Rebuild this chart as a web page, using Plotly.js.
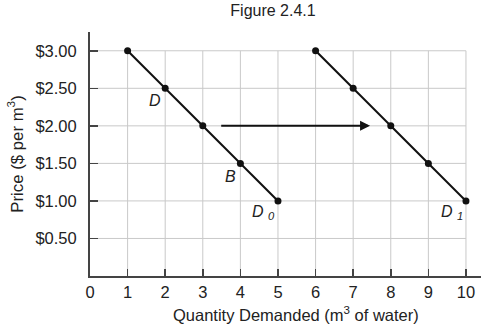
<!DOCTYPE html>
<html>
<head>
<meta charset="utf-8">
<script src="https://cdn.plot.ly/plotly-3.0.1.min.js"></script>
<style>html,body{margin:0;padding:0;background:#fff;}#chart{width:486px;height:328px;}</style>
</head>
<body>
<div id="chart"></div>
<script>
// Data
const quantityD0 = [1, 2, 3, 4, 5];
const quantityD1 = [6, 7, 8, 9, 10];
const prices = [3.00, 2.50, 2.00, 1.50, 1.00];
const xTicks = [0, 1, 2, 3, 4, 5, 6, 7, 8, 9, 10];
const yTicks = [0.5, 1.0, 1.5, 2.0, 2.5, 3.0];
const yTickLabels = ["$0.50", "$1.00", "$1.50", "$2.00", "$2.50", "$3.00"];
const pointLabels = [
  {text: "<i>D</i>", x: 1.74, y: 2.34},
  {text: "<i>B</i>", x: 3.73, y: 1.33},
  {text: "<i>D <sub>0</sub></i>", x: 4.62, y: 0.84},
  {text: "<i>D <sub>1</sub></i>", x: 9.62, y: 0.84}
];
const arrowFrom = [3.45, 2.0];
const arrowTo = [7.45, 2.0];
const xTitle = "Quantity Demanded (m<sup>3</sup> of water)";
const yTitle = "Price ($ per m<sup>3</sup>)";

const FONT = "Liberation Sans, Arial, Helvetica, sans-serif";
const TXT = "#222";

const lineStyle = {color: "#111", width: 2};
const markerStyle = {color: "#111", size: 7};

const traces = [
  {x: quantityD0, y: prices, mode: "lines+markers", line: lineStyle, marker: markerStyle, hoverinfo: "x+y", showlegend: false},
  {x: quantityD1, y: prices, mode: "lines+markers", line: lineStyle, marker: markerStyle, hoverinfo: "x+y", showlegend: false}
];

const gridColor = "#c9c9c9";
const xMaxGrid = xTicks[xTicks.length - 1];
const yMaxGrid = yTicks[yTicks.length - 1];
const shapes = [];
xTicks.filter(v => v > 0).forEach(v => shapes.push({type: "line", xref: "x", yref: "y", x0: v, x1: v, y0: 0, y1: yMaxGrid, line: {color: gridColor, width: 1}, layer: "below"}));
yTicks.forEach(v => shapes.push({type: "line", xref: "x", yref: "y", x0: 0, x1: xMaxGrid, y0: v, y1: v, line: {color: gridColor, width: 1}, layer: "below"}));

const annotations = pointLabels.map(p => ({
  x: p.x, y: p.y, xref: "x", yref: "y", text: p.text, showarrow: false,
  font: {family: FONT, size: 16, color: TXT}
}));
annotations.push({
  x: arrowTo[0], y: arrowTo[1], ax: arrowFrom[0], ay: arrowFrom[1],
  xref: "x", yref: "y", axref: "x", ayref: "y",
  text: "", showarrow: true, arrowhead: 2, arrowsize: 1, arrowwidth: 2, arrowcolor: "#111", standoff: 0
});
// x-axis title placed as annotation (offset right of plot centre as in the reference)
const plotLeft = 90, plotRight = 486 - 5, plotTop = 32, plotBottom = 328 - 52;
const pxToPaperX = px => (px - plotLeft) / (plotRight - plotLeft);
annotations.push({
  x: pxToPaperX(296), xref: "paper", xanchor: "center",
  y: -(314 - plotBottom) / (plotBottom - plotTop), yref: "paper", yanchor: "middle",
  text: xTitle, showarrow: false, font: {family: FONT, size: 16.5, color: TXT}
});

const layout = {
  width: 486, height: 328,
  margin: {l: plotLeft, r: 5, t: plotTop, b: 52, pad: 0},
  paper_bgcolor: "#fff", plot_bgcolor: "#fff",
  font: {family: FONT, size: 16, color: TXT},
  title: {text: "Figure 2.4.1", xref: "paper", x: pxToPaperX(273), xanchor: "center", yref: "container", y: 0.968, yanchor: "middle", font: {family: FONT, size: 16, color: TXT}},
  xaxis: {
    range: [0, 10.4], tickmode: "array", tickvals: xTicks, ticktext: xTicks.map(String),
    showgrid: false, zeroline: false, showline: true, linecolor: "#444", linewidth: 2,
    ticks: "inside", ticklen: 7, tickwidth: 1.5, tickcolor: "#444",
    tickfont: {family: FONT, size: 16.5, color: TXT}, ticklabelstandoff: 0
  },
  yaxis: {
    range: [0, 3.25], tickmode: "array", tickvals: yTicks, ticktext: yTickLabels,
    showgrid: false, zeroline: false, showline: true, linecolor: "#444", linewidth: 2,
    ticks: "inside", ticklen: 8, tickwidth: 1.5, tickcolor: "#444",
    tickfont: {family: FONT, size: 16.5, color: TXT}, ticklabelstandoff: 8,
    title: {text: yTitle, font: {family: FONT, size: 16.8, color: TXT}, standoff: 8}
  },
  shapes: shapes,
  annotations: annotations
};

Plotly.newPlot("chart", traces, layout, {displayModeBar: false, staticPlot: true});
</script>
</body>
</html>
